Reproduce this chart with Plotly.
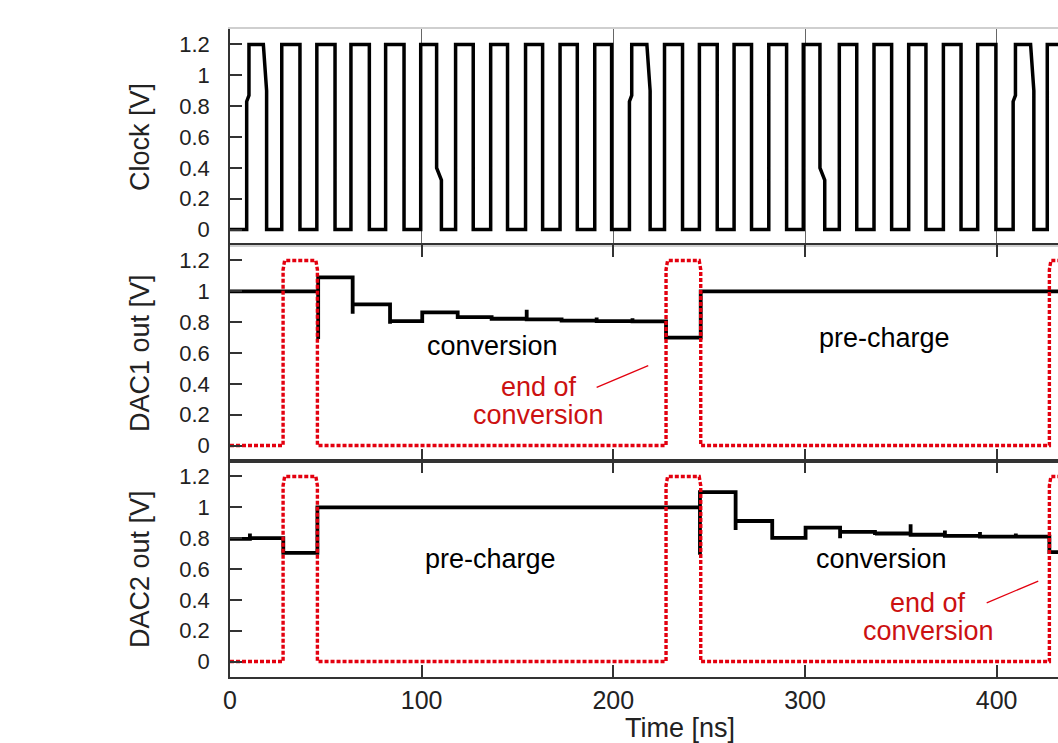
import plotly.graph_objects as go
from plotly.subplots import make_subplots

# ---------------- data (time in ns, voltage in V) ----------------
# Clock edges
clk_rise = [8.7, 27.0, 45.3, 63.1, 81.2, 99.5, 117.7, 136.0, 154.2, 172.2, 190.3, 208.4,
            226.7, 244.9, 263.0, 281.1, 299.1, 317.9, 336.0, 354.1, 372.2, 390.1, 408.6, 426.4]
clk_fall = [19.1, 36.5, 54.8, 72.7, 90.8, 107.8, 126.9, 144.8, 163.1, 181.2, 199.1, 219.2,
            236.1, 254.2, 272.1, 290.4, 307.8, 327.0, 345.2, 363.1, 381.4, 399.6, 419.4]
clk_high = 1.2
# rising edges that pause at a shoulder on the way up
clk_rise_shoulder = [8.7, 208.4, 408.6]
clk_rise_shoulder_v = [0.83, 0.87]
# falling edges that sag before dropping
clk_fall_shoulder = [19.1, 219.2, 419.4]
clk_fall_shoulder_v = 0.90
# falling edges with a kink near the bottom
clk_fall_kink = [107.8, 307.8]
clk_fall_kink_v = [0.40, 0.32]

# DAC1 output: step times, levels after each step, glitch level at each step
dac1_t = [0, 46.0, 64.0, 83.5, 100.3, 118.8, 136.5, 154.8, 173.0, 191.3, 210.0, 227.5, 245.6]
dac1_v = [1.0, 1.09, 0.915, 0.807, 0.863, 0.833, 0.822, 0.818, 0.81, 0.807, 0.805, 0.70, 1.0]
dac1_glitch = [None, 0.69, 0.855, 0.79, None, 0.82, 0.845, 0.88, 0.83, 0.83, 0.825, None, None]

# DAC2 output
dac2_t = [0, 10.4, 27.8, 45.6, 245.2, 263.8, 282.9, 300.3, 318.3, 336.5, 355.1, 373.0, 391.3, 410.0, 427.5]
dac2_v = [0.795, 0.80, 0.705, 1.0, 1.098, 0.911, 0.802, 0.868, 0.841, 0.83, 0.822, 0.815, 0.81, 0.81, 0.71]
dac2_glitch = [None, 0.83, None, None, 0.693, 0.853, 0.79, None, 0.80, 0.82, 0.89, 0.85, 0.84, 0.83, None]

# End-of-conversion pulse
eoc_rise = [27.7, 227.5, 427.5]
eoc_fall = [45.6, 245.6]
eoc_high = 1.2

x_ticks = [0, 100, 200, 300, 400]
y_ticks = [0, 0.2, 0.4, 0.6, 0.8, 1.0, 1.2]
y_ticktext = ["0", "0.2", "0.4", "0.6", "0.8", "1", "1.2"]

T_END = 440

# ---------------- waveform builders ----------------
def clock_path():
    xs, ys = [0], [0]
    falls = clk_fall + [None]
    for r, f in zip(clk_rise, falls):
        if r in clk_rise_shoulder:
            xs += [r, r, r + 1.2, r + 1.2]
            ys += [0, clk_rise_shoulder_v[0], clk_rise_shoulder_v[1], clk_high]
        else:
            xs += [r, r]
            ys += [0, clk_high]
        if f is None:
            xs.append(T_END)
            ys.append(clk_high)
        elif f in clk_fall_shoulder:
            xs += [f - 1.7, f, f]
            ys += [clk_high, clk_fall_shoulder_v, 0]
        elif f in clk_fall_kink:
            xs += [f, f, f + 2.5, f + 2.5]
            ys += [clk_high, clk_fall_kink_v[0], clk_fall_kink_v[1], 0]
        else:
            xs += [f, f]
            ys += [clk_high, 0]
    return xs, ys


def step_path(ts, vs, glitches):
    xs, ys = [ts[0]], [vs[0]]
    for i in range(1, len(ts)):
        xs.append(ts[i])
        ys.append(vs[i - 1])
        if glitches[i] is not None:
            xs.append(ts[i])
            ys.append(glitches[i])
        xs.append(ts[i])
        ys.append(vs[i])
    xs.append(T_END)
    ys.append(vs[-1])
    return xs, ys


def eoc_path():
    xs, ys = [0], [0]
    falls = eoc_fall + [None]
    for r, f in zip(eoc_rise, falls):
        xs += [r, r, r + 0.8]
        ys += [0, eoc_high - 0.06, eoc_high]
        if f is None:
            xs.append(T_END)
            ys.append(eoc_high)
        else:
            xs += [f - 0.8, f, f]
            ys += [eoc_high, eoc_high - 0.06, 0]
    return xs, ys


FONT = "Liberation Sans, Arial, Helvetica, sans-serif"
BLACK = "#000000"
RED = "#e3000f"
RED_TEXT = "#cc1111"
AXIS = "#333333"

fig = make_subplots(rows=3, cols=1, shared_xaxes=True, vertical_spacing=0)

cx, cy = clock_path()
fig.add_trace(go.Scatter(x=cx, y=cy, mode="lines",
                         line=dict(color=BLACK, width=3.5)), row=1, col=1)

ex, ey = eoc_path()
d1x, d1y = step_path(dac1_t, dac1_v, dac1_glitch)
fig.add_trace(go.Scatter(x=d1x, y=d1y, mode="lines",
                         line=dict(color=BLACK, width=3.8)), row=2, col=1)
fig.add_trace(go.Scatter(x=ex, y=ey, mode="lines",
                         line=dict(color=RED, width=3.4, dash="4px,2px")), row=2, col=1)

d2x, d2y = step_path(dac2_t, dac2_v, dac2_glitch)
fig.add_trace(go.Scatter(x=d2x, y=d2y, mode="lines",
                         line=dict(color=BLACK, width=3.8)), row=3, col=1)
fig.add_trace(go.Scatter(x=ex, y=ey, mode="lines",
                         line=dict(color=RED, width=3.4, dash="4px,2px")), row=3, col=1)

# ---------------- axes ----------------
xcommon = dict(range=[0, 432], tickvals=x_ticks, zeroline=False)
fig.update_xaxes(**xcommon)
fig.update_xaxes(row=1, col=1, showgrid=True, gridcolor="#666666", gridwidth=1,
                 showline=True, linecolor="#cfcfcf", linewidth=1.5, mirror=True,
                 ticks="", showticklabels=False)
for r in (2, 3):
    fig.update_xaxes(row=r, col=1, showgrid=False, showline=True, linecolor=AXIS,
                     linewidth=1.5, mirror="ticks", ticks="inside", ticklen=12,
                     tickwidth=1.5, tickcolor=AXIS)
fig.update_xaxes(row=2, col=1, showticklabels=False)
fig.update_xaxes(row=3, col=1, showticklabels=True,
                 tickfont=dict(family=FONT, size=25, color="#222222"),
                 ticklabelstandoff=0)

fig.update_yaxes(range=[-0.1, 1.3], tickvals=y_ticks, ticktext=y_ticktext,
                 showgrid=False, zeroline=False, showline=True, linecolor=AXIS,
                 linewidth=1.5, ticks="inside", ticklen=12, tickwidth=1.5,
                 tickcolor=AXIS, ticklabelstandoff=14,
                 tickfont=dict(family=FONT, size=22, color="#222222"))

# ---------------- titles and labels ----------------
ann = []
title_x = (140 - 230) / 828
for yref, txt in (("y domain", "Clock [V]"), ("y2 domain", "DAC1 out [V]"),
                  ("y3 domain", "DAC2 out [V]")):
    ann.append(dict(text=txt, xref="paper", x=title_x, yref=yref, y=0.5,
                    textangle=-90, showarrow=False, xanchor="center", yanchor="middle",
                    font=dict(family=FONT, size=27, color="#222222")))
ann.append(dict(text="Time [ns]", xref="paper", x=(680 - 230) / 828, yref="paper",
                y=-0.079, showarrow=False, xanchor="center", yanchor="middle",
                font=dict(family=FONT, size=27, color="#222222")))

label_font = dict(family=FONT, size=27, color=BLACK)
red_font = dict(family=FONT, size=27, color=RED_TEXT)
ann += [
    dict(text="conversion", x=137.2, y=0.648, xref="x2", yref="y2", showarrow=False, font=label_font),
    dict(text="pre-charge", x=341.7, y=0.70, xref="x2", yref="y2", showarrow=False, font=label_font),
    dict(text="end of", x=161.2, y=0.38, xref="x2", yref="y2", showarrow=False, font=red_font),
    dict(text="conversion", x=161.2, y=0.2, xref="x2", yref="y2", showarrow=False, font=red_font),
    dict(text="pre-charge", x=135.7, y=0.665, xref="x3", yref="y3", showarrow=False, font=label_font),
    dict(text="conversion", x=339.7, y=0.665, xref="x3", yref="y3", showarrow=False, font=label_font),
    dict(text="end of", x=364.2, y=0.38, xref="x3", yref="y3", showarrow=False, font=red_font),
    dict(text="conversion", x=364.2, y=0.2, xref="x3", yref="y3", showarrow=False, font=red_font),
]

# leader lines from the red labels to the pulses
leaders = [("x2", "y2", 191.3, 0.377, 218.2, 0.518),
           ("x3", "y3", 394.8, 0.38, 421.7, 0.522)]
shapes = [dict(type="line", xref=xr, yref=yr, x0=a, y0=b, x1=c, y1=d,
               line=dict(color=RED, width=1.3)) for xr, yr, a, b, c, d in leaders]

fig.update_layout(width=1058, height=743, margin=dict(l=230, r=0, t=29, b=66),
                  plot_bgcolor="white", paper_bgcolor="white", showlegend=False,
                  annotations=ann, shapes=shapes, font=dict(family=FONT))

fig.write_html("out.html")
